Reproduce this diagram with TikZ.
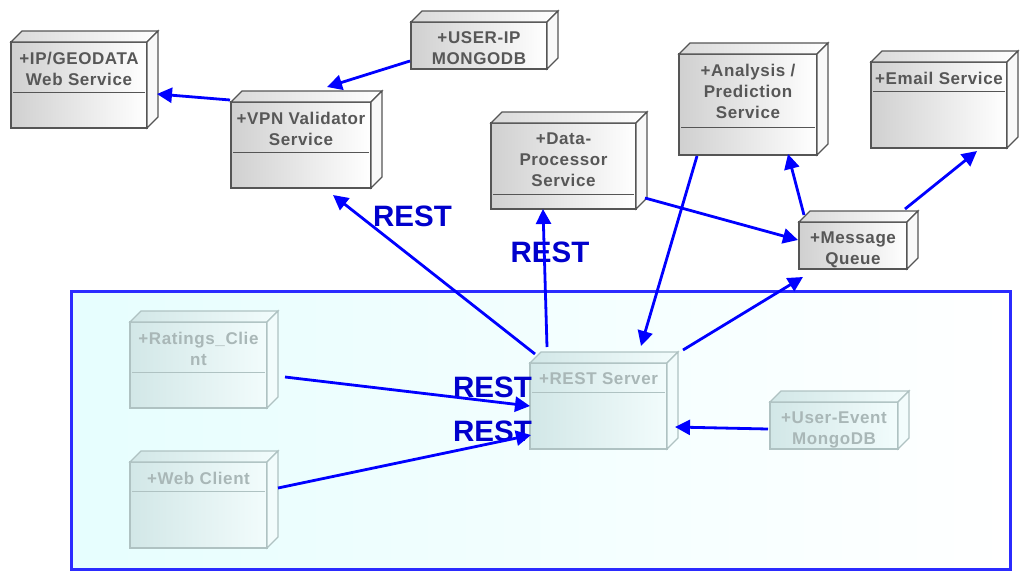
\documentclass[tikz,border=0pt]{standalone}
\usepackage{fontspec}
\setmainfont{Liberation Sans}
\newfontfamily\boxfont[LetterSpace=3.5]{Liberation Sans}
\usetikzlibrary{arrows.meta, calc, positioning}
\definecolor{boxline}{HTML}{555555}
\definecolor{boxtext}{HTML}{575757}
\definecolor{boxdark}{HTML}{D0D0D0}
\definecolor{innerline}{HTML}{AFC2C2}
\definecolor{innertext}{HTML}{A9B7B7}
\definecolor{innerdark}{HTML}{D2E7E7}
\definecolor{innerlight}{HTML}{F2FCFC}
\definecolor{framefill}{HTML}{E6FEFE}
\definecolor{frameline}{HTML}{2B2BFF}
\definecolor{linkblue}{HTML}{0000FF}
\definecolor{restblue}{HTML}{0000CC}
\tikzstyle{top face} = [draw=boxline, line width=1.2pt, left color=boxdark, right color=white, inner sep=0pt, outer sep=0pt]
\tikzstyle{top roof} = [draw=boxline, line width=1.2pt, left color=boxdark!80, right color=white]
\tikzstyle{top side} = [draw=boxline, line width=1.2pt, fill=gray!5]
\tikzstyle{top rule} = [draw=boxline, line width=1pt]
\tikzstyle{top text} = [text=boxtext, font=\boxfont\fontsize{17}{21}\selectfont\bfseries, align=center, anchor=north, inner sep=0pt]
\tikzstyle{inner face} = [draw=innerline, line width=1.2pt, left color=innerdark, right color=innerlight, inner sep=0pt, outer sep=0pt]
\tikzstyle{inner roof} = [draw=innerline, line width=1.2pt, left color=innerdark, right color=innerlight]
\tikzstyle{inner side} = [draw=innerline, line width=1.2pt, fill=innerlight]
\tikzstyle{inner rule} = [draw=innerline, line width=1pt]
\tikzstyle{inner text} = [text=innertext, font=\boxfont\fontsize{17}{21}\selectfont\bfseries, align=center, anchor=north, inner sep=0pt]
\tikzstyle{container} = [draw=frameline, line width=3pt, left color=framefill, right color=white, inner sep=0pt, outer sep=0pt]
\tikzstyle{rest label} = [text=restblue, font=\fontsize{29.5}{30}\selectfont\bfseries, inner sep=0pt]
\tikzstyle{arrow} = [draw=linkblue, line width=2.8pt, -{Triangle[length=15pt,width=15pt]}]

% #1 look, #2 name, #3-#6 front face corners, #7 rule y (or empty), #8 text
\newcommand{\devnode}[8]{%
  \node[#1 face, minimum width={#5-#3}, minimum height={#6-#4}] (#2) at ({(#3+#5)/2},{(#4+#6)/2}) {};
  \path[#1 roof] (#2.north west) -- ++(11,-11) -- ++({#5-#3},0) -- (#2.north east) -- cycle;
  \path[#1 side] (#2.north east) -- ++(11,-11) -- ++(0,{#6-#4}) -- (#2.south east) -- cycle;
  \if\relax\detokenize{#7}\relax\else
    \draw[#1 rule] ({#3+2},#7) -- ({#5-2},#7);
  \fi
  \node[#1 text] (#2-text) at ($(#2.north)+(0,9.5)$) {#8};
}

\begin{document}
\begin{tikzpicture}[x=1pt, y=-1pt]
    \useasboundingbox (0,0) rectangle (1030,581);

    % client side frame
    \node[container, minimum width=939, minimum height=278] (frontend) at (540.5,430) {};

    % nodes inside the frame
    \devnode{inner}{ratings}{130}{322}{267}{408}{372}{+Ratings\_Clie\\nt}
    \devnode{inner}{webclient}{130}{462}{267}{548}{491}{+Web Client}
    \devnode{inner}{rest}{530}{363}{667}{449}{392}{+REST Server}
    \devnode{inner}{userevent}{770}{402}{898}{449}{}{+User-Event\\MongoDB}

    % services
    \devnode{top}{ipgeo}{11}{42}{147}{128}{92}{+IP/GEODATA\\Web Service}
    \devnode{top}{vpn}{231}{102}{371}{188}{152}{+VPN Validator\\Service}
    \devnode{top}{userip}{411}{22}{547}{69}{}{+USER-IP\\MONGODB}
    \devnode{top}{dataproc}{491}{123}{636}{209}{194}{+Data-\\Processor\\Service}
    \devnode{top}{analysis}{679}{54}{817}{155}{127}{+Analysis /\\Prediction\\Service}
    \devnode{top}{email}{871}{62}{1007}{148}{91}{+Email Service}
    \devnode{top}{mq}{799}{222}{907}{269}{}{+Message\\Queue}

    % protocol labels
    \node[rest label] (restvpn) at (412.5,216) {REST};
    \node[rest label] (restdata) at (550,252) {REST};
    \node[rest label] (restratings) at (492.5,387) {REST};
    \node[rest label] (restweb) at (492.5,431) {REST};

    % connectors
    \draw[arrow] ($(vpn.north west)+(-1,-2)$) -- ($(ipgeo.east)+(10,9)$);
    \draw[arrow] ($(userip.south west)+(-1,-8)$) -- ($(vpn.north)+(26,-15)$);
    \draw[arrow] ($(rest.north west)+(5,-9)$) -- ($(vpn.south)+(32,7)$);
    \draw[arrow] ($(rest.north west)+(17,-16)$) -- ($(dataproc.south)+(-20.5,0)$);
    \draw[arrow] ($(analysis.south west)+(18,1)$) -- ($(rest.north east)+(-26,-17)$);
    \draw[arrow] ($(rest.north east)+(16,-13)$) -- ($(mq.south west)+(4,8)$);
    \draw[arrow] ($(dataproc.south east)+(9,-11)$) -- ($(mq.west)+(-1,-5.5)$);
    \draw[arrow] ($(mq.north west)+(5,-7)$) -- ($(analysis.south east)+(-29,-1)$);
    \draw[arrow] ($(mq.north east)+(-2,-13)$) -- ($(email.south east)+(-30,3)$);
    \draw[arrow] ($(ratings.east)+(18,12)$) -- (rest.west);
    \draw[arrow] ($(webclient.east)+(11,-17)$) -- ($(rest.south west)+(1,-14)$);
    \draw[arrow] ($(userevent.west)+(-2,3.5)$) -- ($(rest.south east)+(8,-22)$);
\end{tikzpicture}
\end{document}
